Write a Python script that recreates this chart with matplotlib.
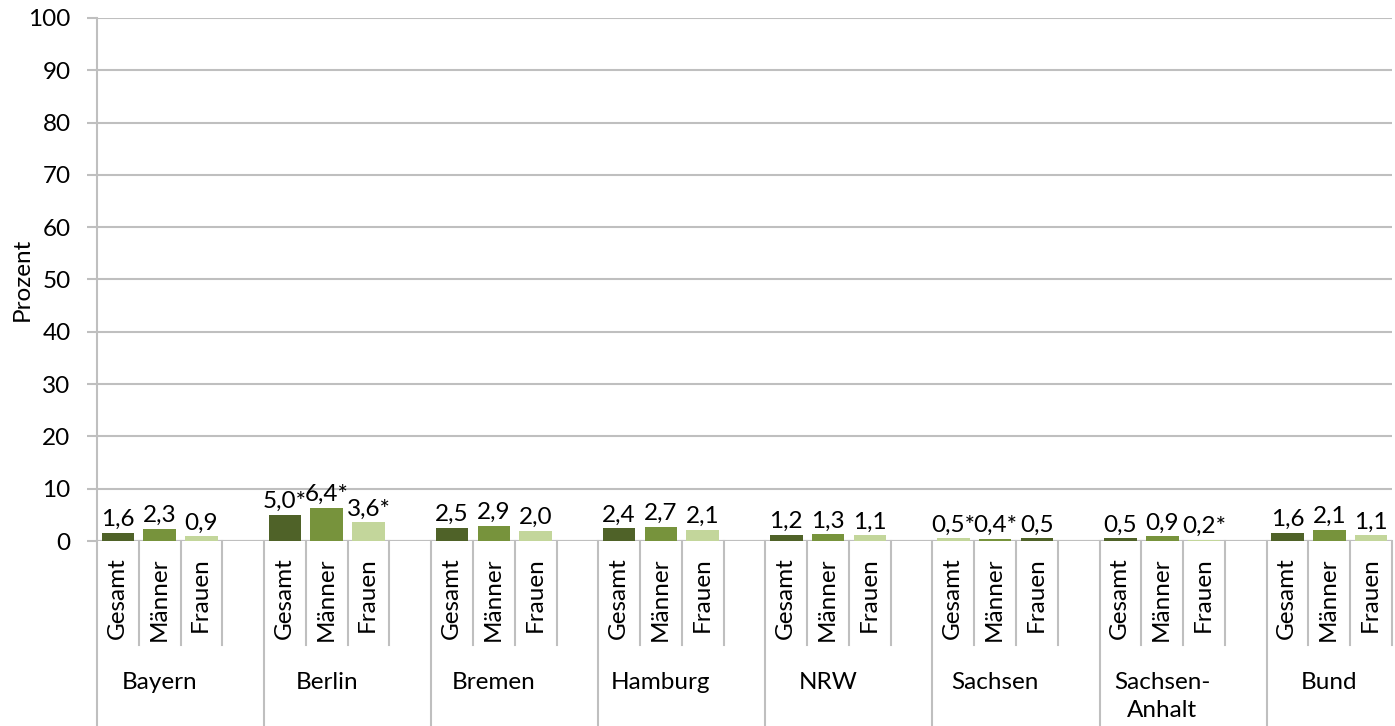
import matplotlib.pyplot as plt

plt.rcParams['font.family'] = ['Lato', 'DejaVu Sans']

regions = ["Bayern", "Berlin", "Bremen", "Hamburg", "NRW", "Sachsen", "Sachsen-\nAnhalt", "Bund"]
sub_labels = ["Gesamt", "Männer", "Frauen"]
values = [
    [1.6, 2.3, 0.9],
    [5.0, 6.4, 3.6],
    [2.5, 2.9, 2.0],
    [2.4, 2.7, 2.1],
    [1.2, 1.3, 1.1],
    [0.5, 0.4, 0.5],
    [0.5, 0.9, 0.2],
    [1.6, 2.1, 1.1],
]
stars = [
    ["", "", ""],
    ["*", "*", "*"],
    ["", "", ""],
    ["", "", ""],
    ["", "", ""],
    ["*", "*", ""],
    ["", "", "*"],
    ["", "", ""],
]
dark, mid, light = "#4F6228", "#77933C", "#C3D69B"
colors = [[dark, mid, light]] * 5 + [[light, mid, dark]] + [[dark, mid, light]] * 2

fig = plt.figure(figsize=(13.95, 7.26), dpi=100)
ax = fig.add_axes([97 / 1395, 185 / 726, 1295 / 1395, 523 / 726])

grid_c = "#BFBFBF"
fs = 17.5
for g, region in enumerate(regions):
    for j in range(3):
        x = g * 4 + j
        v = values[g][j]
        ax.bar(x, v, width=0.78, color=colors[g][j], zorder=3)
        txt = f"{v:.1f}".replace(".", ",") + stars[g][j]
        ax.annotate(txt, (x, v), xytext=(0, 2), textcoords="offset points",
                    ha="center", va="bottom", fontsize=fs)
        # rotated sub label, its end at the top
        ax.text(x - 0.02, -3.2, sub_labels[j], rotation=90, rotation_mode="anchor",
                ha="right", va="center", fontsize=fs)
        # inner separator right of each bar
        ax.plot([x + 0.5, x + 0.5], [0, -19.9], color=grid_c, lw=1.5,
                clip_on=False)
    center = g * 4 + 1
    ax.text(center, -25.0, region, ha="center", va="top", fontsize=fs,
            linespacing=1.4)
    # group boundary
    ax.plot([g * 4 - 0.5, g * 4 - 0.5], [0, -36], color=grid_c, lw=1.5,
            clip_on=False)

ax.set_xlim(-0.5, 30.5)
ax.set_ylim(0, 100)
ax.set_yticks(range(0, 101, 10))
ax.set_xticks([])
ax.yaxis.grid(True, color=grid_c, lw=1.5, zorder=0)
ax.tick_params(axis="y", length=7, width=1.5, color=grid_c, labelsize=fs, pad=12)
for s in ["top", "right", "bottom"]:
    ax.spines[s].set_visible(False)
ax.spines["left"].set_color(grid_c)
ax.spines["left"].set_linewidth(1.5)
ax.axhline(0, color=grid_c, lw=1.5, zorder=2)
ax.set_ylabel("Prozent", fontsize=fs)
ax.yaxis.set_label_coords(-64 / 1295, 0.5)

fig.savefig("out.png", dpi=100)
